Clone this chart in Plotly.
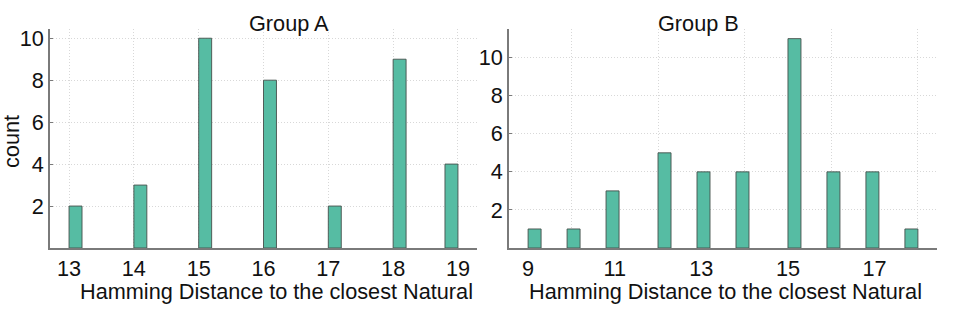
import numpy as np
import plotly.graph_objects as go

# ---- data ----
group_a_values = [13, 14, 15, 16, 17, 18, 19]
group_a_counts = [2, 3, 10, 8, 2, 9, 4]
group_b_values = [9, 10, 11, 12, 13, 14, 15, 16, 17, 18]
group_b_counts = [1, 1, 3, 5, 4, 4, 11, 4, 4, 1]

a_xticks = [13, 14, 15, 16, 17, 18, 19]
b_xticks = [9, 11, 13, 15, 17]
b_xgrid = [10, 12, 14, 16, 18]
a_yticks = [2, 4, 6, 8, 10]
b_yticks = [2, 4, 6, 8, 10]

N_BINS = 30
W, H = 955, 310

FILL = "#56bca3"
EDGE = "rgba(70,80,75,0.9)"
GRID = "#d8d8d8"
GRID_DASH = "1px,2px"
AXIS = "#7a7a7a"
FONT = dict(family="Liberation Sans, Arial, sans-serif", size=21.7, color="#111")


def hist(values, counts):
    raw = np.repeat(values, counts)
    c, edges = np.histogram(raw, bins=N_BINS, range=(min(values), max(values)))
    centers = (edges[:-1] + edges[1:]) / 2
    width = edges[1] - edges[0]
    keep = c > 0
    return centers[keep], c[keep], width


fig = go.Figure()
for vals, cnts, xa, ya in [(group_a_values, group_a_counts, "x", "y"),
                           (group_b_values, group_b_counts, "x2", "y2")]:
    cx, cy, w = hist(vals, cnts)
    fig.add_trace(go.Bar(x=cx, y=cy, width=w, xaxis=xa, yaxis=ya,
                         marker=dict(color=FILL, line=dict(color=EDGE, width=1)),
                         showlegend=False))


def xrange(vals):
    lo, hi = min(vals), max(vals)
    pad = 0.049 * (hi - lo)
    return [lo - pad, hi + pad]


ydom = [1 - 248 / H, 1 - 29 / H]
common_axis = dict(showline=True, linecolor=AXIS, linewidth=1.5, zeroline=False,
                   tickfont=FONT, automargin=False)

fig.update_layout(
    width=W, height=H,
    margin=dict(l=0, r=0, t=0, b=0),
    paper_bgcolor="white", plot_bgcolor="white",
    font=FONT,
    xaxis=dict(domain=[50 / W, 477 / W], anchor="y", range=xrange(group_a_values),
               tickmode="array", tickvals=a_xticks,
               showgrid=True, gridcolor=GRID, griddash=GRID_DASH, **common_axis),
    yaxis=dict(domain=ydom, anchor="x", range=[0, max(group_a_counts) * 1.044],
               tickmode="array", tickvals=a_yticks,
               showgrid=True, gridcolor=GRID, griddash=GRID_DASH,
               ticks="inside", ticklen=3, tickcolor=AXIS, **common_axis),
    xaxis2=dict(domain=[509 / W, 937 / W], anchor="y2", range=xrange(group_b_values),
                tickmode="array", tickvals=b_xticks, showgrid=False,
                minor=dict(tickmode="array", tickvals=b_xgrid, showgrid=True,
                           gridcolor=GRID, griddash=GRID_DASH),
                **common_axis),
    yaxis2=dict(domain=ydom, anchor="x2", range=[0, max(group_b_counts) * 1.046],
                tickmode="array", tickvals=b_yticks,
                showgrid=True, gridcolor=GRID, griddash=GRID_DASH,
                ticks="inside", ticklen=3, tickcolor=AXIS, **common_axis),
)

annos = [
    dict(text="Group A", x=289 / W, y=1 - 24 / H),
    dict(text="Group B", x=698 / W, y=1 - 24 / H),
    dict(text="Hamming Distance to the closest Natural", x=276 / W, y=1 - 291 / H),
    dict(text="Hamming Distance to the closest Natural", x=725 / W, y=1 - 291 / H),
    dict(text="count", x=12 / W, y=1 - 142 / H, textangle=-90),
]
for a in annos:
    fig.add_annotation(xref="paper", yref="paper", showarrow=False,
                       xanchor="center", yanchor="middle", font=FONT, **a)

fig.write_html("out.html", config={"displayModeBar": False},
               post_script="document.body.style.margin='0';document.body.style.overflow='hidden';")
